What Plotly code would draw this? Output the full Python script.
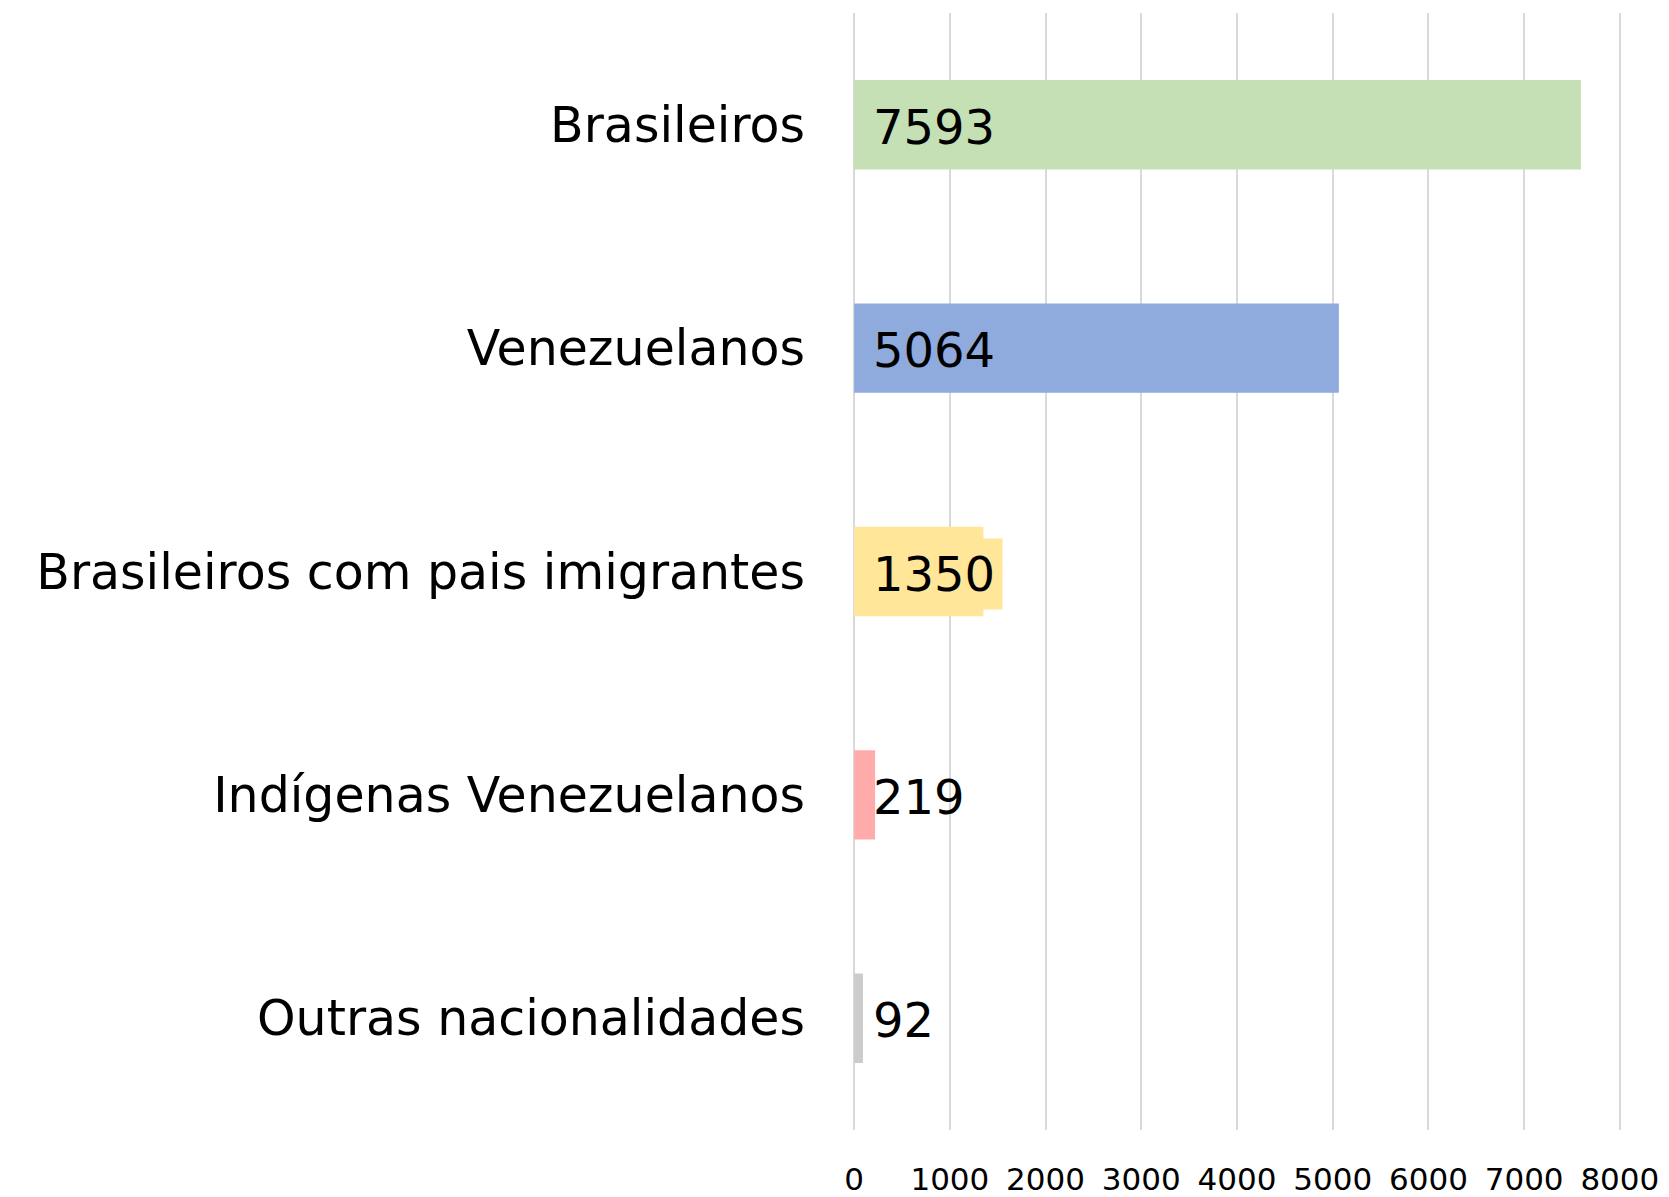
import plotly.graph_objects as go

categories = ["Brasileiros", "Venezuelanos", "Brasileiros com pais imigrantes",
              "Indígenas Venezuelanos", "Outras nacionalidades"]
values = [7593, 5064, 1350, 219, 92]
colors = ["#C5E0B4", "#8FAADC", "#FFE699", "#FFABAB", "#CCCCCC"]
tick_vals = [0, 1000, 2000, 3000, 4000, 5000, 6000, 7000, 8000]

FONT = "DejaVu Sans"

fig = go.Figure(go.Bar(
    y=categories, x=values, orientation="h",
    marker=dict(color=colors, line=dict(width=0)),
    width=0.4,
))

for cat, v in zip(categories, values):
    bg = "#FFE699" if v == 1350 else None
    fig.add_annotation(
        x=0, y=cat, xref="x", yref="y", text=str(v), showarrow=False,
        xanchor="left", yanchor="middle", xshift=11, yshift=-2,
        font=dict(family=FONT, size=48, color="black"),
        bgcolor=bg, borderpad=7,
    )

# page body has an 8px default margin: compensate so the plot area lands in place
fig.update_layout(
    width=1661, height=1189,
    margin=dict(l=845, r=48, t=5, b=67),
    paper_bgcolor="white", plot_bgcolor="white",
    showlegend=False,
    bargap=0.6,
)
fig.update_xaxes(
    range=[-12, 8012], tickvals=tick_vals, showgrid=True, gridcolor="#D9D9D9",
    gridwidth=2, zeroline=True, zerolinecolor="#D9D9D9", zerolinewidth=2,
    showline=False, automargin=False,
    tickfont=dict(family=FONT, size=31, color="black"),
    ticklabelstandoff=28,
)
fig.update_yaxes(
    categoryorder="array", categoryarray=categories[::-1],
    showgrid=False, zeroline=False, showline=False, automargin=False,
    tickfont=dict(family=FONT, size=49, color="black"),
    ticklabelstandoff=47,
)
fig.write_html("out.html")
